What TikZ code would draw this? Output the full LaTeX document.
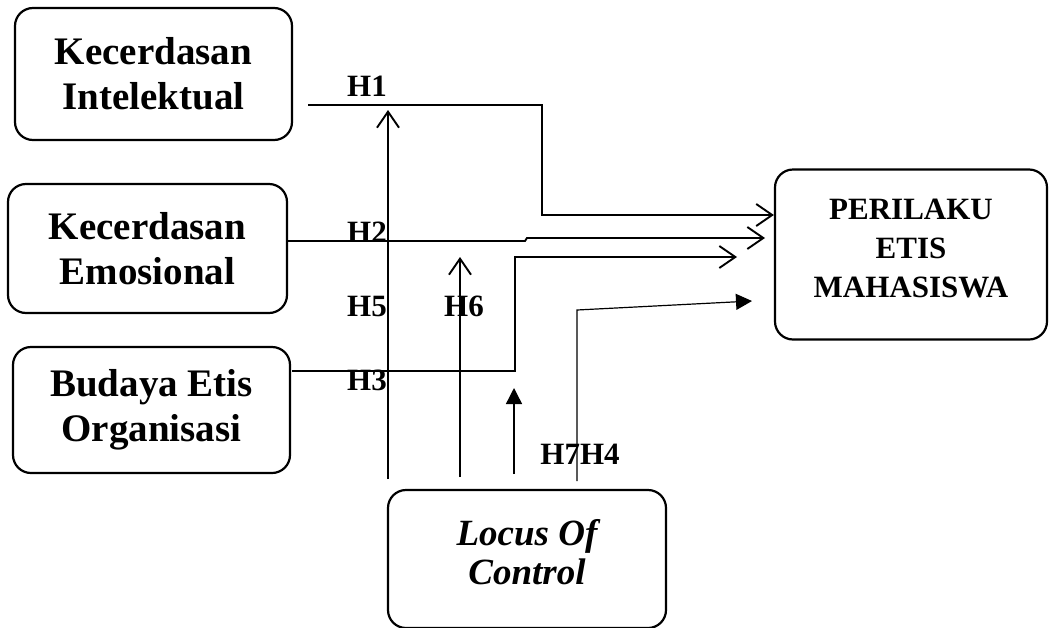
\documentclass[tikz,border=0pt]{standalone}
\usepackage{fontspec}
\setmainfont{Liberation Serif}
\usetikzlibrary{positioning,arrows.meta}
\tikzset{
  openarrow/.style={-{Straight Barb[length=8pt,width=11pt]}, line width=0.95pt},
  fillarrow/.style={-{Triangle[length=8pt,width=8pt]}, line width=0.7pt},
  varbox/.style={draw, rounded corners=9pt, line width=1.1pt, align=center, inner sep=0pt, font=\fontsize{19.5}{22.5}\selectfont\bfseries},
  hlabel/.style={font=\fontsize{15.5}{18}\selectfont\bfseries, inner sep=0pt}
}
\begin{document}
\begin{tikzpicture}[x=0.5pt, y=-0.5pt]
  \useasboundingbox (0,0) rectangle (1049,627);
  % variabel
  \node[varbox, minimum width=138.5pt, minimum height=66pt] (intel) at (153.5,74) {Kecerdasan\\Intelektual};
  \node[varbox, minimum width=139.5pt, minimum height=64.5pt] (emo) at (147.5,248.5) {Kecerdasan\\Emosional};
  \node[varbox, minimum width=138.5pt, minimum height=63pt] (budaya) at (151.5,410) {Budaya Etis\\Organisasi};
  \node[varbox, minimum width=136pt, minimum height=85pt, font=\fontsize{15.5}{19.5}\selectfont\bfseries] (peri) at (911,254.5) {PERILAKU\\ETIS\\MAHASISWA\rule[-6pt]{0pt}{6pt}};
  \node[varbox, minimum width=139pt, minimum height=69pt, font=\fontsize{18.5}{19.5}\selectfont\bfseries\itshape] (locus) at (527,559) {Locus Of\\Control\rule[-7pt]{0pt}{7pt}};
  % titik bantu
  \coordinate (h1s) at (308,105);
  \coordinate (h1t) at (542,215);
  \coordinate (h2s) at (287,241);
  \coordinate (h2k) at (525,241);
  \coordinate (h2b) at (527,238);
  \coordinate (h2t) at (765,238);
  \coordinate (h3s) at (292,371);
  \coordinate (h3k) at (515,257);
  \coordinate (h3t) at (737,257);
  \coordinate (h5s) at (388,479);
  \coordinate (h5t) at (388,110);
  \coordinate (h6s) at (460,477);
  \coordinate (h6t) at (460,257);
  \coordinate (m1s) at (514,474);
  \coordinate (m1t) at (514,388);
  \coordinate (h7s) at (577,481);
  \coordinate (h7k) at (577,310);
  \coordinate (h7t) at (752,301);
  % jalur
  \draw[openarrow] (h1s) -| (h1t) -- (h1t -| peri.west);
  \draw[openarrow] (h2s) -- (h2k) -- (h2b) -- (h2t);
  \draw[openarrow] (h3s) -| (h3k) -- (h3t);
  \draw[openarrow] (h5s) -- (h5t);
  \draw[openarrow] (h6s) -- (h6t);
  \draw[fillarrow] (m1s) -- (m1t);
  \draw[fillarrow, line width=0.6pt] (h7s) -- (h7k) -- (h7t);
  % label hipotesis
  \node[hlabel] (lh1) at (367,86) {H1};
  \node[hlabel] (lh2) at (367,232) {H2};
  \node[hlabel] (lh5) at (367,306) {H5};
  \node[hlabel] (lh6) at (464,306) {H6};
  \node[hlabel] (lh3) at (367,380) {H3};
  \node[hlabel] (lh74) at (580,454) {H7H4};
\end{tikzpicture}
\end{document}
